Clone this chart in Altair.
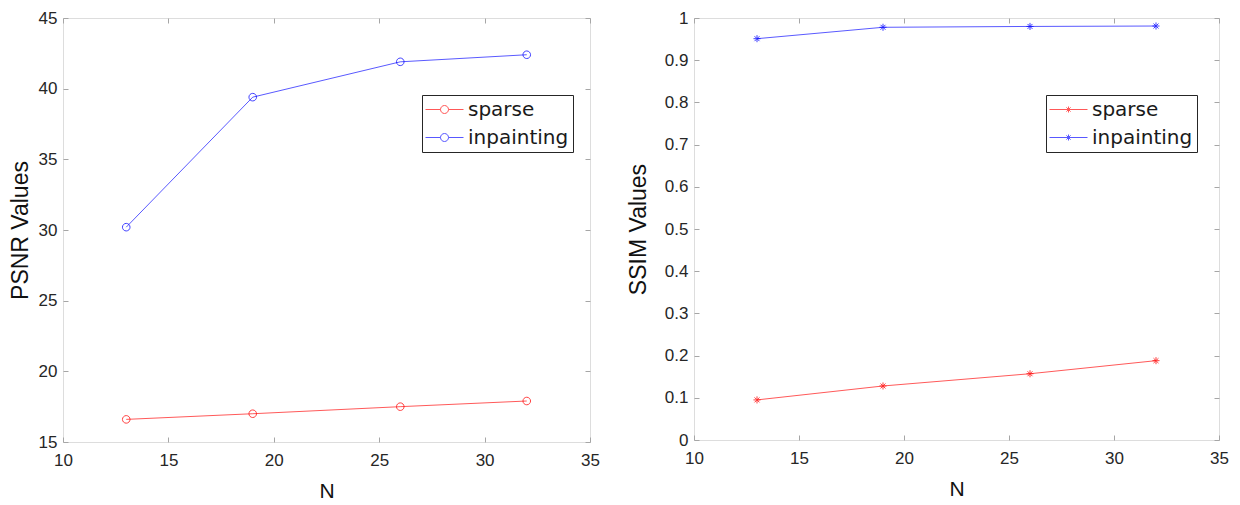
import altair as alt
import pandas as pd

N = [13, 19, 26, 32]
psnr_sparse = [16.6, 17.0, 17.5, 17.9]
psnr_inpaint = [30.2, 39.4, 41.9, 42.4]
ssim_sparse = [0.095, 0.128, 0.157, 0.188]
ssim_inpaint = [0.951, 0.978, 0.980, 0.981]
series = ["sparse", "inpainting"]
colors = ["#ff0000", "#0000ff"]

x_ticks = [10, 15, 20, 25, 30, 35]
psnr_ticks = [15, 20, 25, 30, 35, 40, 45]
ssim_ticks = [0, 0.1, 0.2, 0.3, 0.4, 0.5, 0.6, 0.7, 0.8, 0.9, 1.0]

df_psnr = pd.DataFrame({
    "N": N * 2,
    "v": psnr_sparse + psnr_inpaint,
    "s": ["sparse"] * 4 + ["inpainting"] * 4,
})
df_ssim = pd.DataFrame({
    "N": N * 2,
    "v": ssim_sparse + ssim_inpaint,
    "s": ["sparse"] * 4 + ["inpainting"] * 4,
})

LBL = "Liberation Sans"
LEG = "DejaVu Sans"
AXC = "#262626"
TKC = "#a6a6a6"

CIRCLE = "M-0.4,0A0.4,0.4 0 1,1 0.4,0A0.4,0.4 0 1,1 -0.4,0"
LEG_CIRCLE = "M-1.9,0L-0.4,0M0.4,0L1.9,0" + CIRCLE
STAR = "M-1,0L1,0M0,-1L0,1M-0.7,-0.7L0.7,0.7M-0.7,0.7L0.7,-0.7"
LEG_STAR = "M-1.9,0L1.9,0M0,-0.3L0,0.3M-0.21,-0.21L0.21,0.21M-0.21,0.21L0.21,-0.21"


def panel(df, ticks, ydom, ytitle, yfmt, marker, leg_marker, msize, w, h, lx, title_pad):
    xs = alt.Scale(domain=[10, 35], nice=False, zero=False)
    ys = alt.Scale(domain=ydom, nice=False, zero=False)
    cs = alt.Scale(domain=series, range=colors)
    x_main = alt.Axis(orient="bottom", values=x_ticks, offset=-5, tickSize=5, domain=False,
                      grid=False, labelFlush=False, labelPadding=10, labelFont=LBL, labelFontSize=17,
                      labelColor=AXC, tickColor=TKC, title="N", titleFont=LBL, titleFontSize=21,
                      titleFontWeight="normal", titleColor="#111111", titlePadding=12)
    y_main = alt.Axis(orient="left", values=ticks, offset=-5, tickSize=5, domain=False, grid=False,
                      format=yfmt, labelPadding=6, labelFont=LBL, labelFontSize=17, labelColor=AXC,
                      tickColor=TKC, title=ytitle, titleFont=LBL, titleFontSize=23,
                      titleFontWeight="normal", titleColor="#111111", titlePadding=title_pad)
    x_top = alt.Axis(orient="top", values=x_ticks, offset=-5, tickSize=5, domain=False, grid=False,
                     labels=False, tickColor=TKC, title=None)
    y_right = alt.Axis(orient="right", values=ticks, offset=-5, tickSize=5, domain=False, grid=False,
                       labels=False, tickColor=TKC, title=None)
    legend = alt.Legend(orient="none", legendX=lx, legendY=77, title=None, symbolType=leg_marker,
                        symbolSize=400, symbolStrokeWidth=1, symbolFillColor="transparent",
                        symbolOffset=8, labelOffset=13, labelFont=LEG, labelFontSize=20,
                        labelColor="#1a1a1a", rowPadding=7, padding=4, strokeColor=AXC,
                        fillColor="white")
    lines = alt.Chart(df).mark_line(strokeWidth=1, opacity=0.65).encode(
        x=alt.X("N:Q", scale=xs, axis=x_main),
        y=alt.Y("v:Q", scale=ys, axis=y_main),
        color=alt.Color("s:N", scale=cs, sort=series, legend=legend),
    )
    pts = alt.Chart(df).mark_point(shape=marker, filled=False, size=msize, strokeWidth=1,
                                   opacity=0.75).encode(
        x=alt.X("N:Q", scale=xs, axis=x_top),
        y=alt.Y("v:Q", scale=ys, axis=y_right),
        color=alt.Color("s:N", scale=cs, sort=series, legend=legend),
    )
    return alt.layer(lines, pts).resolve_axis(x="independent", y="independent").properties(
        width=w, height=h)


left = panel(df_psnr, psnr_ticks, [15, 45], "PSNR Values", "d", CIRCLE, LEG_CIRCLE, 360,
             527, 424, 359, 6)
right = panel(df_ssim, ssim_ticks, [0, 1], "SSIM Values", ".1~f", STAR, LEG_STAR, 50,
              525, 422, 352, 14)

chart = alt.hconcat(left, right, spacing=26).resolve_scale(color="independent").resolve_legend(
    color="independent"
).properties(
    padding={"left": 0, "top": 0, "right": 0, "bottom": 0}
).configure_view(stroke=TKC, strokeWidth=1).configure(background="white")

chart.save("out.html", embed_options={"renderer": "svg", "actions": False})
